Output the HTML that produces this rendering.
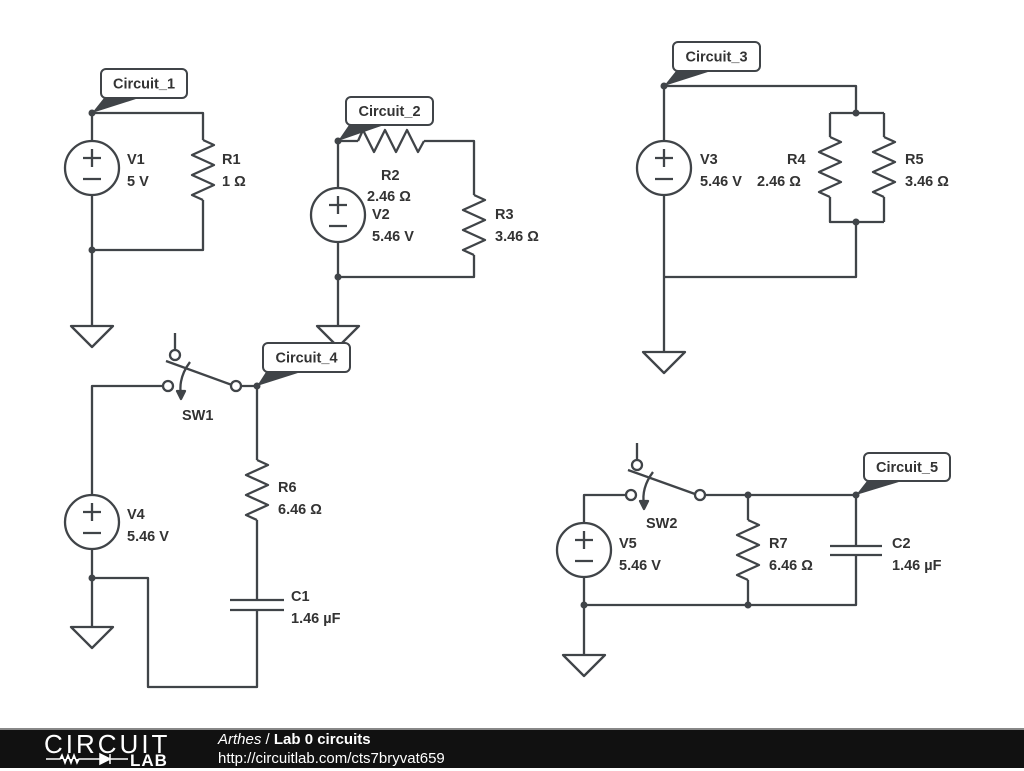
<!DOCTYPE html>
<html><head><meta charset="utf-8"><style>
body{margin:0;width:1024px;height:768px;background:#fff;overflow:hidden;font-family:"Liberation Sans",sans-serif}
svg{position:absolute;left:0;top:0}
text{font-family:"Liberation Sans",sans-serif;font-weight:bold;font-size:14.5px;fill:#333}
</style></head><body>
<svg id="s" width="1024" height="768" xmlns="http://www.w3.org/2000/svg">
<g id="g" stroke="#404448" stroke-width="2.3" fill="none" stroke-linejoin="round">
<!-- Circuit 1 -->
<path d="M92 113H203V140M203 200V250H92M92 113V141M92 195V326"/>
<!-- Circuit 2 -->
<path d="M338 188V141H358M424 141H474V195M474 255V277H338V242M338 277V326"/>
<!-- Circuit 3 -->
<path d="M664 141V86H856V113M830 113H884M830 113V137M884 113V137M830 197V222H884M884 197V222M856 222V277H664V195M664 277V352"/>
<!-- Circuit 4 -->
<path d="M163 386H92V495M92 549V626M92 578H148V687H257V610M257 600V520M257 460V386H241M175 350V333"/>
<path d="M230 600H284M230 610H284"/>
<!-- Circuit 5 -->
<path d="M584 523V495H626M705 495H856V546M856 555V605H584V577M584 605V655M748 495V520M748 580V605M637 460V443"/>
<path d="M830 546H882M830 555H882"/>
</g>
</svg>
<script>
var g=document.getElementById('g'),N='http://www.w3.org/2000/svg';
function el(t,a,p){var e=document.createElementNS(N,t);for(var k in a)e.setAttribute(k,a[k]);(p||g).appendChild(e);return e}
function rv(x,y0){var d='M'+x+' '+y0,s=[11,-11,11,-11,11,-11];for(var i=0;i<6;i++)d+='L'+(x+s[i])+' '+(y0+5+i*10);d+='L'+x+' '+(y0+60);el('path',{d:d});}
function rh(y,x0){var d='M'+x0+' '+y,s=[-11,11,-11,11,-11,11];for(var i=0;i<6;i++)d+='L'+(x0+5+i*11)+' '+(y+s[i]);d+='L'+(x0+66)+' '+y;el('path',{d:d});}
function vs(x,y){el('circle',{cx:x,cy:y,r:27});el('path',{d:'M'+(x-9)+' '+(y-10)+'h18M'+x+' '+(y-19)+'v18M'+(x-9)+' '+(y+11)+'h18'});}
function gnd(x,y){el('path',{d:'M'+(x-21)+' '+y+'H'+(x+21)+'L'+x+' '+(y+21)+'Z'});}
function dot(x,y){el('circle',{cx:x,cy:y,r:3.5,fill:'#404448',stroke:'none'});}
function oc(x,y){el('circle',{cx:x,cy:y,r:5,fill:'#fff'});}
rv(203,140);rv(474,195);rv(830,137);rv(884,137);rv(257,460);rv(748,520);
rh(141,358);
vs(92,168);vs(338,215);vs(664,168);vs(92,522);vs(584,550);
gnd(92,326);gnd(338,326);gnd(664,352);gnd(92,627);gnd(584,655);
[[92,113],[92,250],[338,141],[338,277],[664,86],[856,113],[856,222],[257,386],[92,578],[748,495],[856,495],[584,605],[748,605]].forEach(function(p){dot(p[0],p[1])});
el('path',{d:'M166 361L232 385'});oc(175,355);oc(168,386);oc(236,386);
el('path',{d:'M190 362Q178 378 181 395'});el('path',{d:'M177 391L181 399L185 391Z',fill:'#404448'});
el('path',{d:'M628 470L695 494'});oc(637,465);oc(631,495);oc(700,495);
el('path',{d:'M653 472Q641 488 644 505'});el('path',{d:'M640 501L644 509L648 501Z',fill:'#404448'});
var s=document.getElementById('s');
function lab(bx,by,w,h,nx,ny,t){el('path',{d:'M'+nx+' '+ny+'L'+(bx+3)+' '+(by+h)+'L'+(bx+38)+' '+(by+h)+'Z',fill:'#404448',stroke:'none'},s);el('rect',{x:bx,y:by,width:w,height:h,rx:5,fill:'#fff',stroke:'#404448','stroke-width':2},s);var e=el('text',{x:bx+w/2,y:by+h/2+5,'text-anchor':'middle'},s);e.textContent=t;}
lab(101,69,86,29,92,113,'Circuit_1');
lab(346,97,87,28,338,141,'Circuit_2');
lab(673,42,87,29,664,86,'Circuit_3');
lab(263,343,87,29,257,386,'Circuit_4');
lab(864,453,86,28,856,495,'Circuit_5');
function tx(x,y,t){var e=el('text',{x:x,y:y},s);e.textContent=t;}
tx(127,164,'V1');tx(127,186,'5 V');tx(222,164,'R1');tx(222,186,'1 Ω');
tx(381,180,'R2');tx(367,201,'2.46 Ω');tx(372,219,'V2');tx(372,241,'5.46 V');tx(495,219,'R3');tx(495,241,'3.46 Ω');
tx(700,164,'V3');tx(700,186,'5.46 V');tx(787,164,'R4');tx(757,186,'2.46 Ω');tx(905,164,'R5');tx(905,186,'3.46 Ω');
tx(182,420,'SW1');tx(127,519,'V4');tx(127,541,'5.46 V');tx(278,492,'R6');tx(278,514,'6.46 Ω');tx(291,601,'C1');tx(291,623,'1.46 µF');
tx(646,528,'SW2');tx(619,548,'V5');tx(619,570,'5.46 V');tx(769,548,'R7');tx(769,570,'6.46 Ω');tx(892,548,'C2');tx(892,570,'1.46 µF');
</script>
<div style="position:absolute;left:0;top:728px;width:1024px;height:2px;background:#888"></div>
<div style="position:absolute;left:0;top:730px;width:1024px;height:38px;background:#111"></div>
<div style="position:absolute;left:44px;top:729px;color:#fff;font:26px 'Liberation Sans',sans-serif;letter-spacing:3px">CIRCUIT</div>
<div style="position:absolute;left:130px;top:751px;color:#fff;font:bold 17px 'Liberation Sans',sans-serif;letter-spacing:1px">LAB</div>
<svg width="130" height="20" style="left:44px;top:750px"><path d="M2 9H16l2-4 3 8 3-8 3 8 3-8 3 8 2-4H56M56 4V14L66 9Z M66 4V14M66 9H84" stroke="#fff" stroke-width="1.5" fill="#fff"/></svg>
<div style="position:absolute;left:218px;top:731px;color:#fff;font:15px 'Liberation Sans',sans-serif"><i>Arthes</i> / <b>Lab 0 circuits</b></div>
<div style="position:absolute;left:218px;top:750px;color:#fff;font:15px 'Liberation Sans',sans-serif">http://circuitlab.com/cts7bryvat659</div>
</body></html>
